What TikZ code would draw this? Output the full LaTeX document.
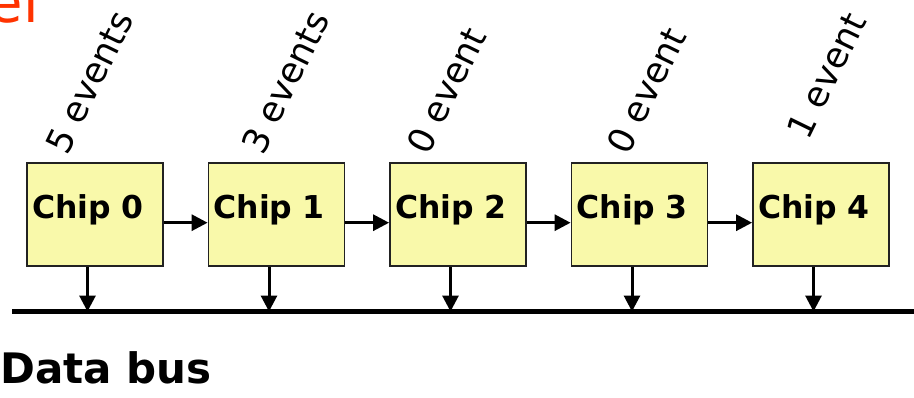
\documentclass[tikz,border=0pt]{standalone}
\usepackage{fontspec}
\setmainfont{DejaVu Sans}
\usetikzlibrary{arrows.meta,calc}
\definecolor{chipfill}{HTML}{F9F9AA}
\definecolor{chipedge}{HTML}{222222}
\definecolor{titleorange}{HTML}{FF3300}
\tikzset{
  chip/.style={draw=chipedge, line width=1.8pt, fill=chipfill, rectangle,
    minimum width=136pt, minimum height=103pt, inner ysep=0pt, inner xsep=5pt,
    text width=126pt, align=left, text height=20pt, text depth=12.8pt,
    font=\fontsize{31.5}{31.5}\selectfont\bfseries},
  evlabel/.style={rotate=64, anchor=base west, inner sep=0pt,
    font=\fontsize{35.5}{35.5}\selectfont},
  link/.style={line width=3pt, -{Triangle[length=16pt,width=16pt]}},
  bus/.style={line width=4.5pt},
}
\begin{document}
\begin{tikzpicture}[x=1pt,y=-1pt]
\useasboundingbox (0,0) rectangle (914,397);
\clip (0,0) rectangle (914,397);
% title fragment
\node[anchor=base east, inner sep=0pt, text=titleorange,
  font=\fontsize{56}{56}\selectfont] (title) at (39,22) {el};
% chips
\node[chip] (c0) at (95,214.7) {Chip 0};
\node[chip] (c1) at (276.5,214.7) {Chip 1};
\node[chip] (c2) at (458,214.7) {Chip 2};
\node[chip] (c3) at (639.5,214.7) {Chip 3};
\node[chip] (c4) at (821,214.7) {Chip 4};
% event labels
\node[evlabel] (l0) at (67,157) {5 events};
\node[evlabel] (l1) at (263,157) {3 events};
\node[evlabel] (l2) at (428,157) {0 event};
\node[evlabel] (l3) at (628,157) {0 event};
\node[evlabel] (l4) at (808,142) {1 event};
% chain arrows
\foreach \a/\b in {c0/c1,c1/c2,c2/c3,c3/c4}{
  \draw[link] ($(\a.east)+(0,8)$) -- ($(\b.west)+(0,8)$);
}
% bus
\coordinate (busL) at (12,311.5);
\coordinate (busR) at (914,311.5);
\draw[bus] (busL) -- (busR);
\foreach \c in {c0,c1,c2,c3,c4}{
  \coordinate (\c t) at ($(\c.south)+(-7.5,0)$);
  \draw[link] (\c t) -- (\c t |- busL);
}
\node[anchor=base west, inner sep=0pt, font=\fontsize{42}{42}\selectfont\bfseries] (dbus) at (0,383) {Data bus};
\end{tikzpicture}
\end{document}
